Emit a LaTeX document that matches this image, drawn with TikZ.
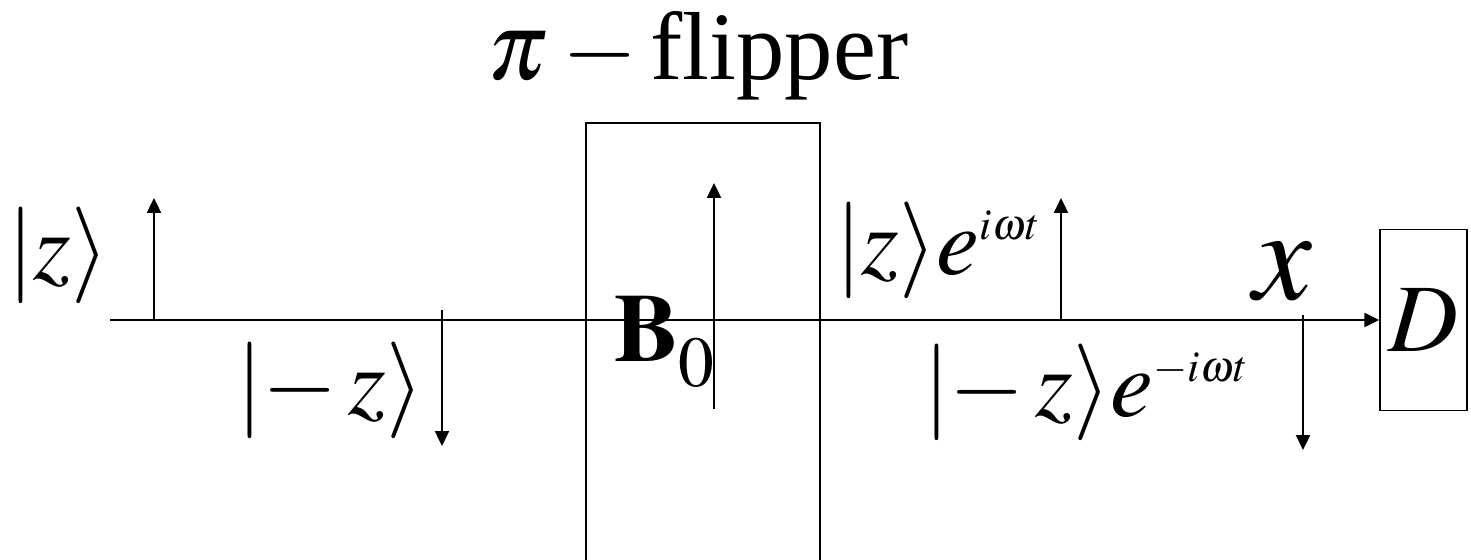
\documentclass[tikz,border=0pt]{standalone}
\usepackage{mathptmx}
\usepackage{fontspec}
\setmainfont{Liberation Serif}
\usetikzlibrary{arrows.meta}
\newcommand{\expo}[1]{^{\mbox{\fontsize{25}{25}\selectfont$#1$}}}

\begin{document}
\begin{tikzpicture}[
  x=0.02cm, y=-0.02cm,
  big/.style={font=\fontsize{55}{60}\selectfont, inner sep=0pt, anchor=base},
  frame/.style={rectangle, draw, line width=0.8pt, inner sep=0pt},
  axis/.style={-{Triangle[length=8.5pt,width=8pt]}, line width=1.1pt},
  spin/.style={-{Triangle[length=8.5pt,width=8pt]}, line width=1.1pt}
]
\useasboundingbox (0,0) rectangle (1471,560);
\clip (0,0) rectangle (1471,560);

\node[frame, minimum width=4.68cm, minimum height=9.5cm] (flipper) at (703,360.5) {};
\node[frame, font=\fontsize{55}{60}\selectfont, minimum width=1.74cm, minimum height=3.62cm] (det) at (1423.5,320) {$D$};

\node[big] (title) at (698,80) {$\pi - \mbox{flipper}$};
\node[big] (up) at (58,280) {$|z\rangle$};
\node[big] (down) at (330,415) {$|{-}\,z\rangle$};
\node[big] (upphase) at (938,275) {$|z\rangle e\expo{i\omega t}$};
\node[big] (downphase) at (1086,417) {$|{-}\,z\rangle e\expo{-i\omega t}$};
\node[big, font=\fontsize{75}{80}\selectfont] (xlabel) at (1283,300) {$x$};
\node[big] (field) at (665,362) {$\mathbf{B}_{\raisebox{-0.2cm}{$\scriptstyle 0$}}$};

\coordinate (src) at (110,320);
\draw[axis] (src) -- (det.west);

% spin states along the beam
\coordinate (s1) at (154,320);
\coordinate (s2) at (442,310);
\coordinate (s3) at (714,409);
\coordinate (s4) at (1061,320);
\coordinate (s5) at (1303,315);
\draw[spin] (s1) -- ++(0,-122);
\draw[spin] (s2) -- ++(0,136);
\draw[spin] (s3) -- ++(0,-226);
\draw[spin] (s4) -- ++(0,-122);
\draw[spin] (s5) -- ++(0,135);
\end{tikzpicture}
\end{document}
